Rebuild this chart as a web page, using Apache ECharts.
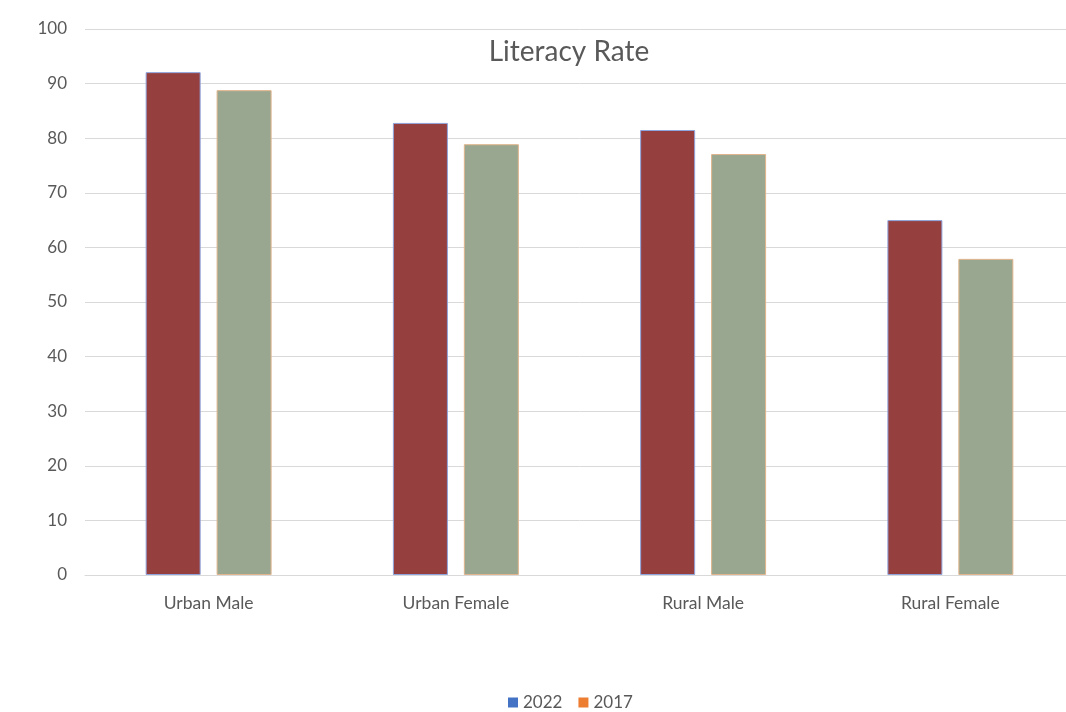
<!DOCTYPE html>
<html>
<head>
<meta charset="utf-8">
<script src="https://cdn.jsdelivr.net/npm/echarts@6/dist/echarts.min.js"></script>
<style>html,body{margin:0;padding:0;background:#fff;overflow:hidden;}#c{width:1074px;height:712px;}</style>
</head>
<body>
<div id="c"></div>
<script>
const categories = ['Urban Male', 'Urban Female', 'Rural Male', 'Rural Female'];
const values2022 = [92.1, 82.8, 81.5, 65.0];
const values2017 = [88.8, 78.9, 77.1, 57.9];
const yTicks = [0, 10, 20, 30, 40, 50, 60, 70, 80, 90, 100];

const chart = echarts.init(document.getElementById('c'));
const font = 'Lato, "Open Sans", sans-serif';
chart.setOption({
  animation: false,
  backgroundColor: '#fff',
  title: {
    text: 'Literacy Rate',
    left: 564,
    textAlign: 'center',
    top: 33,
    textStyle: { fontSize: 28, fontWeight: 'normal', color: '#595959', fontFamily: font }
  },
  legend: {
    top: 689,
    left: 503,
    itemWidth: 10, itemHeight: 10, itemGap: 16,
    textStyle: { fontSize: 17, color: '#595959', fontFamily: font },
    data: [
      { name: '2022', icon: 'rect', itemStyle: { color: '#4472c4', borderWidth: 0 } },
      { name: '2017', icon: 'rect', itemStyle: { color: '#ed7d31', borderWidth: 0 } }
    ]
  },
  grid: { left: 85, right: 0, top: 29, bottom: 137, containLabel: false },
  xAxis: {
    type: 'category',
    data: categories,
    axisLine: { lineStyle: { color: '#d9d9d9' } },
    axisTick: { show: false },
    axisLabel: { fontSize: 17.5, color: '#595959', fontFamily: font, margin: 19 }
  },
  yAxis: {
    type: 'value',
    min: yTicks[0], max: yTicks[yTicks.length - 1], interval: 10,
    axisLine: { show: false },
    axisTick: { show: false },
    splitLine: { lineStyle: { color: '#d9d9d9' } },
    axisLabel: { fontSize: 17, color: '#595959', fontFamily: font, margin: 18 }
  },
  series: [
    {
      name: '2022', type: 'bar', data: values2022, barWidth: 55, barGap: '29%',
      itemStyle: { color: '#963f3f', borderColor: '#8ea4dc', borderWidth: 1 }
    },
    {
      name: '2017', type: 'bar', data: values2017, barWidth: 55,
      itemStyle: { color: '#9aa790', borderColor: '#e0b48c', borderWidth: 1 }
    }
  ]
});
</script>
</body>
</html>
